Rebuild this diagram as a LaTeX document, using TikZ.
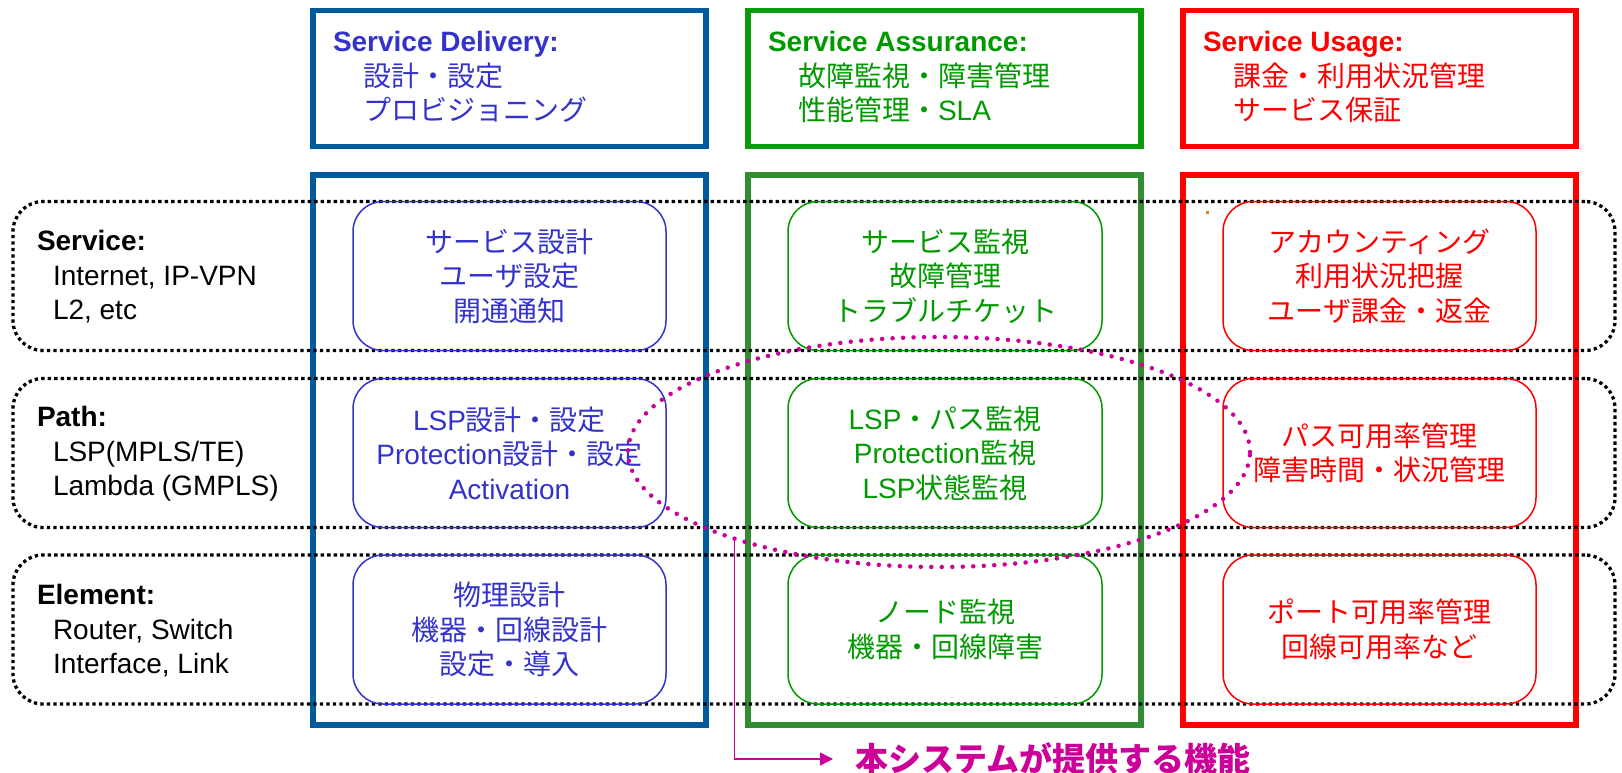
\documentclass[tikz,border=0pt]{standalone}
\usepackage{fontspec}
\setmainfont{Liberation Sans}
\newfontfamily\jp{Noto Sans CJK JP}
\usetikzlibrary{shapes.geometric,arrows.meta}
\definecolor{tblue}{HTML}{3333CC}
\definecolor{cblue}{HTML}{005A9C}
\definecolor{tgreen}{HTML}{009900}
\definecolor{hgreen}{HTML}{0A9A0A}
\definecolor{cgreen}{HTML}{328C32}
\definecolor{tred}{HTML}{FF0000}
\definecolor{mag}{HTML}{CC0099}
\definecolor{speck}{HTML}{C88A1E}
\newcommand{\J}[1]{{\jp #1}}
\begin{document}
\begin{tikzpicture}[x=1pt,y=-1pt,
  every node/.style={inner sep=0pt, outer sep=0pt},
  txt/.style={font=\fontsize{28}{34.5}\selectfont},
  hbox/.style={draw, line width=5.5pt, minimum width=393pt, minimum height=136pt},
  cbox/.style={draw, line width=6pt, minimum width=393pt, minimum height=550pt},
  rowbox/.style={draw=black, line width=3.3pt, dash pattern=on 3.3pt off 3.2pt, rounded corners=30pt, minimum width=1602pt, minimum height=149pt},
  fbox/.style={draw, line width=1.5pt, rounded corners=30pt, minimum width=313pt, minimum height=149pt, align=center, txt},
  htext/.style={anchor=west, align=left, txt},
  rtext/.style={anchor=west, align=left, txt, text=black}
]
\useasboundingbox (0,0) rectangle (1622,773);

% header boxes
\node[hbox, draw=cblue] (h1) at (509.5,78.5) {};
\node[hbox, draw=hgreen] (h2) at (944.5,78.5) {};
\node[hbox, draw=tred] (h3) at (1379.5,78.5) {};
\node[htext, text=tblue] (ht1) at (333,77) {\textbf{Service Delivery:}\\\hspace*{30pt}\J{設計・設定}\\\hspace*{30pt}\J{プロビジョニング}};
\node[htext, text=tgreen] (ht2) at (768,77) {\textbf{Service Assurance:}\\\hspace*{30pt}\J{故障監視・障害管理}\\\hspace*{30pt}\J{性能管理・}SLA};
\node[htext, text=tred] (ht3) at (1203,77) {\textbf{Service Usage:}\\\hspace*{30pt}\J{課金・利用状況管理}\\\hspace*{30pt}\J{サービス保証}};

% column boxes
\node[cbox, draw=cblue] (c1) at (509.5,450) {};
\node[cbox, draw=cgreen] (c2) at (944.5,450) {};
\node[cbox, draw=tred] (c3) at (1379.5,450) {};

% dotted rows
\node[rowbox] (r1) at (814,276) {};
\node[rowbox] (r2) at (814,453) {};
\node[rowbox] (r3) at (814,629.5) {};

% row labels
\node[rtext] (l1) at (37,277) {\textbf{Service:}\\\hspace*{16pt}Internet, IP-VPN\\\hspace*{16pt}L2, etc};
\node[rtext] (l2) at (37,454) {\textbf{Path:}\\\hspace*{16pt}LSP(MPLS/TE)\\\hspace*{16pt}Lambda (GMPLS)};
\node[rtext] (l3) at (37,631) {\textbf{Element:}\\\hspace*{16pt}Router, Switch\\\hspace*{16pt}Interface, Link};

% function boxes
\node[fbox, draw=tblue, text=tblue] (b11) at (509.5,276) {\J{サービス設計}\\\J{ユーザ設定}\\\J{開通通知}};
\node[fbox, draw=tblue, text=tblue] (b12) at (509.5,453) {LSP\J{設計・設定}\\Protection\J{設計・設定}\\Activation};
\node[fbox, draw=tblue, text=tblue] (b13) at (509.5,629.5) {\J{物理設計}\\\J{機器・回線設計}\\\J{設定・導入}};

\node[fbox, minimum width=314pt, draw=tgreen, text=tgreen] (b21) at (945,276) {\J{サービス監視}\\\J{故障管理}\\\J{トラブルチケット}};
\node[fbox, minimum width=314pt, draw=tgreen, text=tgreen] (b22) at (945,453) {LSP\J{・パス監視}\\Protection\J{監視}\\LSP\J{状態監視}};
\node[fbox, minimum width=314pt, draw=tgreen, text=tgreen] (b23) at (945,629.5) {\J{ノード監視}\\\J{機器・回線障害}};

\node[fbox, draw=tred, text=tred] (b31) at (1379.5,276) {\J{アカウンティング}\\\J{利用状況把握}\\\J{ユーザ課金・返金}};
\node[fbox, draw=tred, text=tred] (b32) at (1379.5,453) {\J{パス可用率管理}\\\J{障害時間・状況管理}};
\node[fbox, draw=tred, text=tred] (b33) at (1379.5,629.5) {\J{ポート可用率管理}\\\J{回線可用率など}};

% speck
\fill[speck] (1205.8,210.8) rectangle (1208.6,213.6);

% highlight ellipse
\node[ellipse, draw=mag, line width=4.5pt, line cap=round, dash pattern=on 0pt off 10.5pt, minimum width=622pt, minimum height=230pt] (ell) at (939,452) {};

% label and arrow
\node[anchor=west, text=mag, font=\fontsize{33}{36}\selectfont\jp\bfseries] (lab) at (855,759) {本システムが提供する機能};
\draw[mag, line width=1.5pt, -{Triangle[length=13pt,width=13pt]}] (ell.203) |- ([xshift=-22pt]lab.west);
\end{tikzpicture}
\end{document}
